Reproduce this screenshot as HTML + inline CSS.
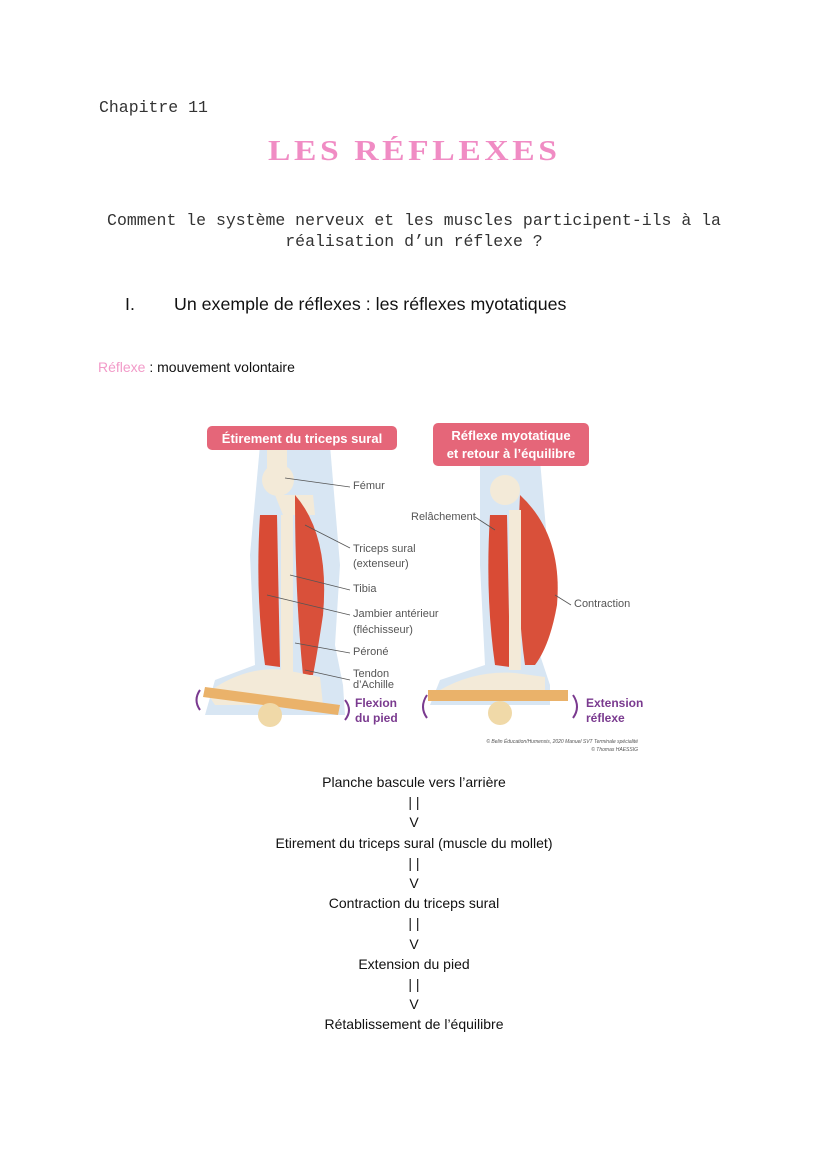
<!DOCTYPE html>
<html><head><meta charset="utf-8"><style>
body{margin:0;background:#fff;width:828px;height:1171px;position:relative;overflow:hidden;font-family:"Liberation Sans",sans-serif;color:#111}
.a{position:absolute;white-space:nowrap}
.mono{font-family:"Liberation Mono",monospace;color:#333}
.flow{position:absolute;left:0;width:828px;text-align:center;font-size:14px;line-height:20.2px;top:772px}
</style></head><body>
<div class="a mono" style="left:99px;top:98px;font-size:16.5px">Chapitre 11</div>
<div class="a" style="left:268px;top:136px;font-family:'Liberation Serif',serif;font-weight:bold;font-size:28px;letter-spacing:3px;color:#f08cc4;transform:scaleX(1.2);transform-origin:left">LES RÉFLEXES</div>
<div class="a mono" style="left:0;width:828px;text-align:center;top:210px;font-size:16.5px;line-height:21px">Comment le système nerveux et les muscles participent-ils à la<br>réalisation d’un réflexe ?</div>
<div class="a" style="left:125px;top:294px;font-size:17.8px">I.</div>
<div class="a" style="left:174px;top:294px;font-size:17.8px">Un exemple de réflexes : les réflexes myotatiques</div>
<div class="a" style="left:98px;top:359px;font-size:14px"><span style="color:#f29ac8">Réflexe</span> : mouvement volontaire</div>

<svg class="a" style="left:195px;top:415px" width="455" height="350" viewBox="0 0 455 350">
<path d="M65 30 L135 30 L145 150 L140 230 L148 270 L150 300 L10 300 L20 265 L60 250 L55 140Z" fill="#d8e6f3"/>
<rect x="72" y="30" width="20" height="30" fill="#f3ead8"/>
<circle cx="83" cy="65" r="16" fill="#f3ead8"/>
<path d="M80 80 L118 80 L120 100 L88 100Z" fill="#f3ead8"/>
<path d="M65 100 Q60 180 70 250 L85 252 L82 100Z" fill="#d94b35"/>
<path d="M100 80 Q135 120 128 200 Q122 240 118 260 L108 260 Q100 180 100 80Z" fill="#d9503a"/>
<rect x="86" y="100" width="12" height="160" fill="#f3ead8"/>
<path d="M12 278 Q50 250 90 255 L125 262 L128 290 L20 290Z" fill="#f3ead8"/>
<path d="M10 272 L145 290 L143 300 L8 282Z" fill="#eab26a"/>
<circle cx="75" cy="300" r="12" fill="#f0d9a8"/>
<path d="M285 45 L345 45 L355 160 L345 240 L355 270 L355 290 L235 290 L245 265 L290 250 L285 150Z" fill="#d8e6f3"/>
<circle cx="310" cy="75" r="15" fill="#f3ead8"/>
<path d="M295 100 Q290 180 300 250 L315 252 L312 100Z" fill="#d94b35"/>
<path d="M325 80 Q368 120 362 190 Q355 230 340 250 L330 250 Q320 180 325 80Z" fill="#d9503a"/>
<rect x="314" y="95" width="12" height="160" fill="#f3ead8"/>
<path d="M245 275 Q280 255 320 258 L350 262 L350 285 L250 285Z" fill="#f3ead8"/>
<rect x="233" y="275" width="140" height="11" fill="#eab26a"/>
<circle cx="305" cy="298" r="12" fill="#f0d9a8"/>
<rect x="12" y="11" width="190" height="24" rx="5" fill="#e56679"/>
<text x="107" y="28" text-anchor="middle" font-size="13" font-weight="bold" fill="#fff" font-family="Liberation Sans">Étirement du triceps sural</text>
<rect x="238" y="8" width="156" height="43" rx="5" fill="#e56679"/>
<text x="316" y="25" text-anchor="middle" font-size="13" font-weight="bold" fill="#fff" font-family="Liberation Sans">Réflexe myotatique</text>
<text x="316" y="43" text-anchor="middle" font-size="13" font-weight="bold" fill="#fff" font-family="Liberation Sans">et retour à l’équilibre</text>
<g font-size="11" fill="#555" font-family="Liberation Sans">
<text x="158" y="74">Fémur</text>
<text x="158" y="137">Triceps sural</text><text x="158" y="152">(extenseur)</text>
<text x="158" y="177">Tibia</text>
<text x="158" y="202">Jambier antérieur</text><text x="158" y="218">(fléchisseur)</text>
<text x="158" y="240">Péroné</text>
<text x="158" y="262">Tendon</text><text x="158" y="273">d’Achille</text>
<text x="216" y="105">Relâchement</text>
<text x="379" y="192">Contraction</text>
</g>
<g stroke="#555" fill="none" stroke-width="0.8">
<path d="M90 63 L155 72"/><path d="M110 110 L155 133"/><path d="M95 160 L155 175"/><path d="M72 180 L155 200"/><path d="M100 228 L155 238"/><path d="M110 255 L155 265"/><path d="M280 102 L300 115"/><path d="M360 180 L376 190"/>
</g>
<g font-size="12" font-weight="bold" fill="#7a3a8f" font-family="Liberation Sans">
<text x="160" y="292">Flexion</text><text x="160" y="307">du pied</text>
<text x="391" y="292">Extension</text><text x="391" y="307">réflexe</text>
</g>
<path d="M150 285 Q158 295 150 305" stroke="#7a3a8f" stroke-width="2" fill="none"/>
<path d="M5 275 Q-2 285 5 295" stroke="#7a3a8f" stroke-width="2" fill="none"/>
<path d="M378 280 Q386 292 378 303" stroke="#7a3a8f" stroke-width="2" fill="none"/>
<path d="M232 280 Q224 292 232 303" stroke="#7a3a8f" stroke-width="2" fill="none"/>
<text x="443" y="328" text-anchor="end" font-size="5" font-style="italic" fill="#555" font-family="Liberation Sans">© Belin Éducation/Humensis, 2020 Manuel SVT Terminale spécialité</text>
<text x="443" y="336" text-anchor="end" font-size="5" font-style="italic" fill="#555" font-family="Liberation Sans">© Thomas HAESSIG</text>
</svg>

<div class="flow">Planche bascule vers l’arrière<br>| |<br>V<br>Etirement du triceps sural (muscle du mollet)<br>| |<br>V<br>Contraction du triceps sural<br>| |<br>V<br>Extension du pied<br>| |<br>V<br>Rétablissement de l’équilibre</div>
</body></html>
